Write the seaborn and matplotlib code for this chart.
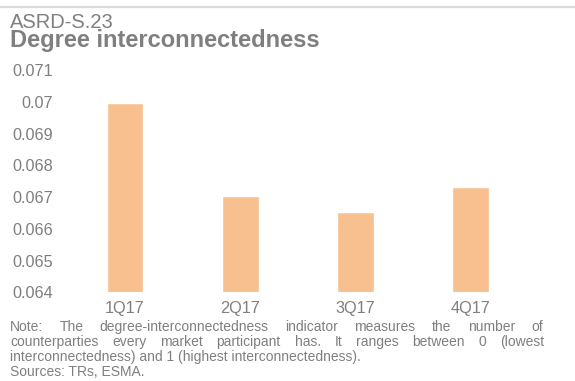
import matplotlib
matplotlib.use("Agg")
import matplotlib.pyplot as plt
import seaborn as sns
import pandas as pd
from matplotlib.ticker import FixedLocator, FuncFormatter
from matplotlib.lines import Line2D

# data
quarters = ["1Q17", "2Q17", "3Q17", "4Q17"]
degree = [0.06997, 0.06703, 0.06652, 0.06731]
y_ticks = [0.064, 0.065, 0.066, 0.067, 0.068, 0.069, 0.070, 0.071]

note_1 = "Note: The degree-interconnectedness indicator measures the number of"
note_2 = "counterparties every market participant has. It ranges between 0 (lowest"
note_3 = "interconnectedness) and 1 (highest interconnectedness)."
note_4 = "Sources: TRs, ESMA."

W, H = 575, 381
grey = "#7f7f7f"
bar_colour = "#F9C08F"

sns.set_theme(style="white")
plt.rcParams["font.family"] = ["Liberation Sans", "DejaVu Sans"]

fig = plt.figure(figsize=(W / 100, H / 100), dpi=100)
ax = fig.add_axes([67.5 / W, 1 - 292.3 / H, (528 - 67.5) / W, (292.3 - 70) / H])

df = pd.DataFrame({"quarter": quarters, "value": degree})
sns.barplot(data=df, x="quarter", y="value", color=bar_colour,
            saturation=1, width=0.32, ax=ax)

ax.set_ylim(0.064, 0.071)
ax.set_xlim(-0.5, 3.5)
ax.yaxis.set_major_locator(FixedLocator(y_ticks))
ax.yaxis.set_major_formatter(FuncFormatter(lambda v, p: f"{round(v, 4):g}"))
ax.set_xlabel("")
ax.set_ylabel("")
sns.despine(ax=ax, left=True, bottom=True)
ax.tick_params(axis="both", length=0, labelsize=11.7, colors=grey)
ax.tick_params(axis="y", pad=10.5)
ax.tick_params(axis="x", pad=6)

# header
fig.add_artist(Line2D([0, 1], [1 - 6.5 / H, 1 - 6.5 / H], color="#d9d9d9", lw=1.6))
fig.text(10 / W, 1 - 27.5 / H, "ASRD-S.23", fontsize=14.5, color=grey, va="baseline")
fig.text(10 / W, 1 - 47.5 / H, "Degree interconnectedness", fontsize=17,
         fontweight="bold", color=grey, va="baseline")


def justified(line, x0, x1, y, size):
    words = line.split()
    arts = [fig.text(0, 1 - y / H, w, fontsize=size, color=grey, va="baseline") for w in words]
    fig.canvas.draw()
    r = fig.canvas.get_renderer()
    widths = [a.get_window_extent(r).width for a in arts]
    gap = (x1 - x0 - sum(widths)) / (len(words) - 1)
    x = x0
    for a, w in zip(arts, widths):
        a.set_x(x / W)
        x += w + gap


note_size = 10
justified(note_1, 10, 543, 331, note_size)
justified(note_2, 10, 544, 346, note_size)
fig.text(10 / W, 1 - 361 / H, note_3, fontsize=note_size, color=grey, va="baseline")
fig.text(10 / W, 1 - 375.5 / H, note_4, fontsize=note_size, color=grey, va="baseline")

fig.savefig("out.png", dpi=100)
